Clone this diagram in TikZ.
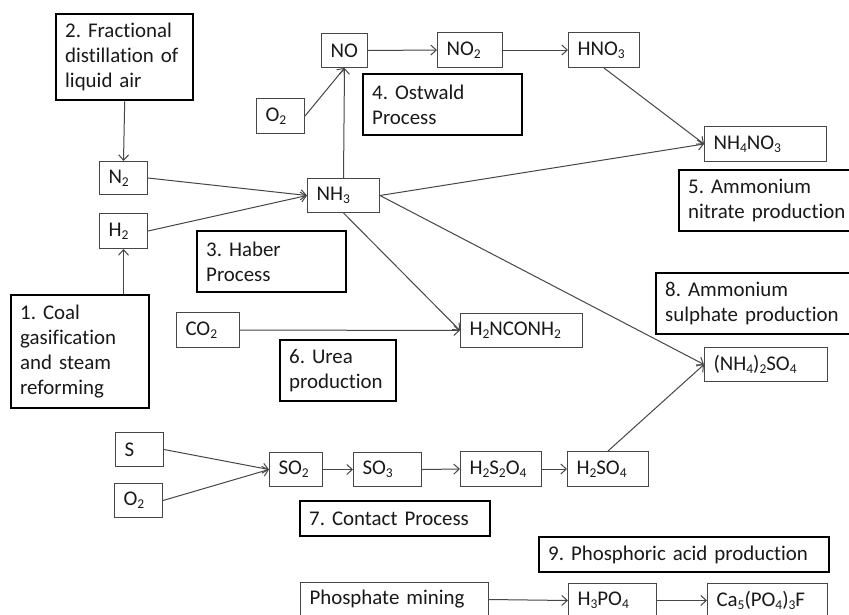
\documentclass[tikz,border=0pt]{standalone}
\usepackage{fontspec}
\setmainfont{Carlito}[Ligatures=NoCommon]
\usetikzlibrary{arrows.meta}
\definecolor{lc}{RGB}{70,70,70}
\definecolor{tc}{RGB}{25,25,25}
\newcommand\sbs[1]{\raisebox{-0.32ex}{\fontsize{13.5}{14}\selectfont #1}}
\frenchspacing
\begin{document}
\begin{tikzpicture}[x=1pt,y=-1pt,
  base/.style={rectangle, anchor=north west, inner xsep=9pt, inner ysep=0pt, align=left,
    font=\fontsize{20.9}{25}\selectfont\frenchspacing, text=tc},
  chem/.style={base, draw=lc, line width=1pt},
  proc/.style={base, draw=black, line width=2.4pt},
  arr/.style={draw=lc, line width=1pt, -{Straight Barb[length=5.5pt,width=10pt]}}]
\useasboundingbox[fill=white] (0,0) rectangle (849,614);
% process boxes
\node[proc, text width=119pt, minimum height=86pt] (b2) at (55,13) {2. Fractional\\distillation of\\liquid air};
\node[proc, text width=120pt, minimum height=113pt] (b1) at (10,294) {1. Coal\\gasification\\and steam\\reforming};
\node[proc, text width=131pt, minimum height=61pt] (b3) at (196,230) {3. Haber\\Process};
\node[proc, text width=141pt, minimum height=61pt] (b4) at (362,73) {4. Ostwald\\Process};
\node[proc, text width=172pt, minimum height=61pt] (b5) at (678,169) {5. Ammonium\\nitrate production};
\node[proc, text width=98pt, minimum height=61pt] (b6) at (279,339) {6. Urea\\production};
\node[proc, text width=172pt, minimum height=35pt] (b7) at (299,500) {7. Contact Process};
\node[proc, text width=192pt, minimum height=61pt] (b8) at (655,272) {8. Ammonium\\sulphate production};
\node[proc, text width=272pt, minimum height=35pt] (b9) at (538,536) {9. Phosphoric acid production};
% chemical boxes
\node[chem, text width=28pt, minimum height=34pt] (NO) at (321,33) {NO};
\node[chem, text width=30pt, minimum height=35pt] (O2a) at (256,98) {O\sbs{2}};
\node[chem, text width=47pt, minimum height=35pt] (NO2) at (437,32) {NO\sbs{2}};
\node[chem, text width=53pt, minimum height=35pt] (HNO3) at (568,32) {HNO\sbs{3}};
\node[chem, text width=104pt, minimum height=35pt] (NH4NO3) at (704,126) {NH\sbs{4}NO\sbs{3}};
\node[chem, text width=30pt, minimum height=33pt] (N2) at (99,161) {N\sbs{2}};
\node[chem, text width=30pt, minimum height=35pt] (H2) at (99,213) {H\sbs{2}};
\node[chem, text width=54pt, minimum height=34pt] (NH3) at (307,178) {NH\sbs{3}};
\node[chem, text width=45pt, minimum height=35pt] (CO2) at (176,312) {CO\sbs{2}};
\node[chem, text width=104pt, minimum height=34pt] (urea) at (460,313) {H\sbs{2}NCONH\sbs{2}};
\node[chem, text width=105pt, minimum height=34pt] (AS) at (704,347) {(NH\sbs{4})\sbs{2}SO\sbs{4}};
\node[chem, text width=30pt, minimum height=34pt] (S) at (115,432) {S};
\node[chem, text width=30pt, minimum height=34pt] (O2b) at (114,483) {O\sbs{2}};
\node[chem, text width=35pt, minimum height=34pt] (SO2) at (269,452) {SO\sbs{2}};
\node[chem, text width=50pt, minimum height=34pt] (SO3) at (353,452) {SO\sbs{3}};
\node[chem, text width=63pt, minimum height=35pt] (H2S2O4) at (460,451) {H\sbs{2}S\sbs{2}O\sbs{4}};
\node[chem, text width=63pt, minimum height=35pt] (H2SO4) at (567,451) {H\sbs{2}SO\sbs{4}};
\node[chem, text width=170pt, minimum height=34pt] (PM) at (300,582) {Phosphate mining};
\node[chem, text width=70pt, minimum height=34pt] (H3PO4) at (568,583) {H\sbs{3}PO\sbs{4}};
\node[chem, text width=102pt, minimum height=34pt] (CaF) at (707,583) {Ca\sbs{5}(PO\sbs{4})\sbs{3}F};
% connectors
\draw[arr] (b2.south) -- (N2.north);
\draw[arr] (H2.south |- b1.north) -- (H2.south);
\draw[arr] (N2.east) -- (NH3.west);
\draw[arr] (H2.east) -- (NH3.west);
\draw[arr] (NH3.north) -- (NO.south);
\draw[arr] (O2a.east) -- (NO.south);
\draw[arr] (NO.east) -- (NO2.west);
\draw[arr] (NO2.east) -- (HNO3.west);
\draw[arr] (HNO3.south) -- (NH4NO3.west);
\draw[arr] (NH3.east) -- (NH4NO3.west);
\draw[arr] (NH3.east) -- (AS.west);
\draw[arr] (NH3.south) -- (urea.west);
\draw[arr] (CO2.east) -- (urea.west);
\draw[arr] (S.east) -- (SO2.west);
\draw[arr] (O2b.east) -- (SO2.west);
\draw[arr] (SO2.east) -- (SO3.west);
\draw[arr] (SO3.east) -- (H2S2O4.west);
\draw[arr] (H2S2O4.east) -- (H2SO4.west);
\draw[arr] (H2SO4.north) -- (AS.west);
\draw[arr] (PM.east) -- (H3PO4.west);
\draw[arr] (H3PO4.east) -- (CaF.west);
\end{tikzpicture}
\end{document}
